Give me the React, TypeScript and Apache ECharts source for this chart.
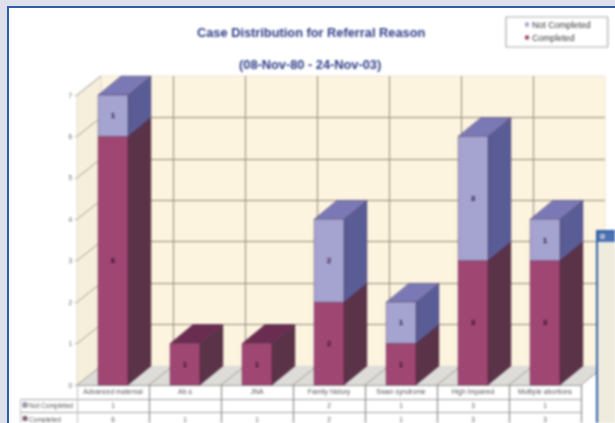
import React, { useEffect, useRef } from "react";
import * as echarts from "echarts";

const categories = ["Advanced maternal", "Ab.s", "JNA", "Family history", "Swan syndrome", "High Impaired", "Multiple abortions"];
const completed = [6, 1, 1, 2, 1, 3, 3];
const notCompleted = [1, 0, 0, 2, 1, 3, 1];
const yTicks = [0, 1, 2, 3, 4, 5, 6, 7];
const titleText = "Case Distribution for Referral Reason";
const subtitleText = "(08-Nov-80 - 24-Nov-03)";

const DX = 24, DY = 19, BAR = 30;
const FONT = '"Liberation Sans", Arial, sans-serif';

function barRenderer(front: string, side: string, top: string) {
  return (_: any, api: any) => {
    const cat = api.value(0), base = api.value(1), end = api.value(2);
    if (end <= base) return { type: "group", children: [] };
    const [cx, y0] = api.coord([cat, base]);
    const [, y1] = api.coord([cat, end]);
    const x0 = cx - BAR / 2, x1 = cx + BAR / 2;
    const edge = { stroke: "rgba(50,20,50,0.45)", lineWidth: 0.6 };
    return {
      type: "group",
      children: [
        { type: "polygon", shape: { points: [[x1, y0], [x1 + DX - 1, y0 - DY], [x1 + DX - 1, y1 - DY], [x1, y1]] }, style: { fill: side, ...edge } },
        { type: "polygon", shape: { points: [[x0, y1], [x1, y1], [x1 + DX - 1, y1 - DY], [x0 + DX - 1, y1 - DY]] }, style: { fill: top, ...edge } },
        { type: "rect", shape: { x: x0, y: y1, width: BAR, height: y0 - y1 }, style: { fill: front, ...edge } },
        { type: "text", style: { x: cx, y: (y0 + y1) / 2, text: String(end - base), fill: "#2a1030", font: `bold 8px ${FONT}`, align: "center", verticalAlign: "middle" } },
      ],
    };
  };
}

function tableRowRenderer(rowY: number) {
  return (_: any, api: any) => {
    const [cx] = api.coord([api.value(0), 0]);
    const v = api.value(1);
    if (!v) return { type: "group", children: [] };
    return { type: "text", style: { x: cx, y: rowY, text: String(v), fill: "#555", font: `6.5px ${FONT}`, align: "center", verticalAlign: "middle" } };
  };
}

export default function App() {
  const ref = useRef<HTMLDivElement>(null);
  useEffect(() => {
    document.body.style.margin = "0";
    const chart = echarts.init(ref.current!, undefined, { renderer: "svg" });
    const fx = 77, fw = 504, ft = 95, fb = 385;
    const stepX = fw / categories.length;
    const stackRows = (base: number[], vals: number[]) => vals.map((v, i) => [i, base[i], base[i] + v]);

    const tableLine = { stroke: "#a0a0a0", lineWidth: 1.2 };
    const graphics: any[] = [
      { type: "polygon", z: 1, shape: { points: [[fx, ft], [fx + DX, ft - DY], [fx + DX, fb - DY], [fx, fb]] }, style: { fill: "#f6efdc", stroke: "#e2dccb" } },
      { type: "polygon", z: 1, shape: { points: [[fx, fb], [fx + DX, fb - DY], [fx + fw + DX, fb - DY], [fx + fw, fb]] }, style: { fill: "#dddcd8" } },
    ];
    yTicks.slice(1).forEach((t) => {
      const y = fb - (t * (fb - ft)) / 7;
      graphics.push({ type: "line", z: 1, shape: { x1: fx, y1: y, x2: fx + DX, y2: y - DY }, style: { stroke: "#8f8a78", lineWidth: 0.8 } });
    });
    categories.forEach((_, i) => {
      const x = fx + stepX * (i + 1);
      graphics.push({ type: "line", z: 1, shape: { x1: x, y1: fb, x2: x + DX, y2: fb - DY }, style: { stroke: "#8f8a78", lineWidth: 0.8 } });
    });
    graphics.push({ type: "line", z: 1, shape: { x1: fx, y1: fb, x2: fx + DX, y2: fb - DY }, style: { stroke: "#8f8a78", lineWidth: 0.8 } });

    // data table rules
    [399, 412].forEach((y) => graphics.push({ type: "line", z: 3, shape: { x1: 20, y1: y + 0.5, x2: fx + fw, y2: y + 0.5 }, style: tableLine }));
    graphics.push({ type: "line", z: 3, shape: { x1: fx, y1: fb + 0.5, x2: fx + fw, y2: fb + 0.5 }, style: { stroke: "#9a9a9a", lineWidth: 1 } });
    for (let i = 0; i <= categories.length; i++) {
      const x = Math.round(fx + stepX * i) + 0.5;
      graphics.push({ type: "line", z: 3, shape: { x1: x, y1: fb, x2: x, y2: 423 }, style: { stroke: i === 0 ? "#c4c4c4" : "#8a8a8a", lineWidth: 1.2 } });
    }
    // row headers
    graphics.push({ type: "line", z: 3, shape: { x1: 20.5, y1: 399, x2: 20.5, y2: 423 }, style: { stroke: "#c4c4c4", lineWidth: 1 } });
    graphics.push({ type: "rect", z: 4, shape: { x: 23, y: 403, width: 4, height: 4 }, style: { fill: "#a5a3cf", stroke: "#777" } });
    graphics.push({ type: "rect", z: 4, shape: { x: 23, y: 416.5, width: 4, height: 4 }, style: { fill: "#a04672", stroke: "#777" } });
    graphics.push({ type: "text", z: 4, style: { x: 29, y: 405.5, text: "Not Completed", fill: "#555", font: `6.6px ${FONT}`, verticalAlign: "middle" } });
    graphics.push({ type: "text", z: 4, style: { x: 29, y: 419, text: "Completed", fill: "#555", font: `6.6px ${FONT}`, verticalAlign: "middle" } });
    // overlapping window at the lower right
    graphics.push({ type: "rect", z: 100, shape: { x: 596, y: 230, width: 20, height: 200 }, style: { fill: "#2f5ea8" } });
    graphics.push({ type: "rect", z: 101, shape: { x: 598, y: 232, width: 17, height: 10 }, style: { fill: "#4a72b4" } });
    graphics.push({ type: "rect", z: 102, shape: { x: 600, y: 234, width: 5, height: 5 }, style: { fill: "#aeb3ca" } });
    graphics.push({ type: "rect", z: 101, shape: { x: 598, y: 242, width: 17, height: 190 }, style: { fill: "#efecdd" } });

    chart.setOption({
      animation: false,
      backgroundColor: "transparent",
      textStyle: { fontFamily: FONT },
      title: [
        { text: titleText, left: 197, top: 26, padding: 0, textStyle: { color: "#2c3c86", fontSize: 12.8, fontWeight: "bold", fontFamily: FONT } },
        { text: subtitleText, left: 239, top: 58, padding: 0, textStyle: { color: "#2c3c86", fontSize: 12.8, fontWeight: "bold", fontFamily: FONT } },
      ],
      legend: {
        data: ["Not Completed", "Completed"],
        orient: "vertical",
        left: 506,
        top: 17,
        padding: [3, 17, 5, 19],
        itemWidth: 4,
        itemHeight: 4,
        itemGap: 4,
        icon: "rect",
        borderColor: "#aaaaaa",
        borderWidth: 1.2,
        backgroundColor: "#fff",
        selectedMode: false,
        textStyle: { fontSize: 8.8, color: "#333", fontFamily: FONT, padding: [0, 0, 0, -2] },
      },
      grid: [
        { left: fx, top: ft, width: fw, height: fb - ft, z: 1 },
        { left: fx + DX, top: ft - DY, width: fw, height: fb - ft, show: true, backgroundColor: "#fdf4e0", borderColor: "#ece6d6", borderWidth: 1, z: 0 },
      ],
      xAxis: [
        {
          type: "category", gridIndex: 0, data: categories,
          axisLine: { show: false }, axisTick: { show: false }, splitLine: { show: false },
          axisLabel: { fontSize: 6.9, color: "#555", margin: 3, interval: 0, fontFamily: FONT },
        },
        {
          type: "category", gridIndex: 1, data: categories,
          axisLine: { show: false }, axisTick: { show: false }, axisLabel: { show: false },
          splitLine: { show: true, interval: 0, showMinLine: false, showMaxLine: false, lineStyle: { color: "#8f8a78", width: 1 } },
        },
      ],
      yAxis: [
        {
          type: "value", gridIndex: 0, min: 0, max: 7, interval: 1,
          axisLine: { show: false }, splitLine: { show: false },
          axisTick: { show: true, length: 2, lineStyle: { color: "#999" } },
          axisLabel: { fontSize: 6.5, color: "#666", margin: 5, fontFamily: FONT },
        },
        {
          type: "value", gridIndex: 1, min: 0, max: 7, interval: 1,
          axisLine: { show: false }, axisTick: { show: false }, axisLabel: { show: false },
          splitLine: { show: true, showMinLine: false, showMaxLine: false, lineStyle: { color: "#8f8a78", width: 1 } },
        },
      ],
      series: [
        {
          name: "Completed", type: "custom", xAxisIndex: 0, yAxisIndex: 0, z: 5,
          itemStyle: { color: "#a04672" },
          renderItem: barRenderer("#a04672", "#5b3348", "#6b2c52"),
          data: stackRows(completed.map(() => 0), completed),
        },
        {
          name: "Not Completed", type: "custom", xAxisIndex: 0, yAxisIndex: 0, z: 6,
          itemStyle: { color: "#a5a3cf" },
          renderItem: barRenderer("#a5a3cf", "#5a5c96", "#7a79b5"),
          data: stackRows(completed, notCompleted),
        },
        {
          type: "custom", xAxisIndex: 0, yAxisIndex: 0, z: 7, silent: true,
          renderItem: tableRowRenderer(405.5),
          data: notCompleted.map((v, i) => [i, v]),
        },
        {
          type: "custom", xAxisIndex: 0, yAxisIndex: 0, z: 7, silent: true,
          renderItem: tableRowRenderer(419),
          data: completed.map((v, i) => [i, v]),
        },
      ],
      graphic: { elements: graphics },
    });
    return () => chart.dispose();
  }, []);

  return (
    <div style={{ position: "relative", width: 615, height: 423, overflow: "hidden", background: "#dfe0ec" }}>
      <div style={{ position: "absolute", left: 7, top: 6, width: 640, height: 450, background: "#fff", border: "2px solid #2f5ea8", boxSizing: "border-box", filter: "blur(0.5px)" }} />
      <div ref={ref} style={{ position: "absolute", left: 0, top: 0, width: 615, height: 423, filter: "blur(0.8px)" }} />
    </div>
  );
}
